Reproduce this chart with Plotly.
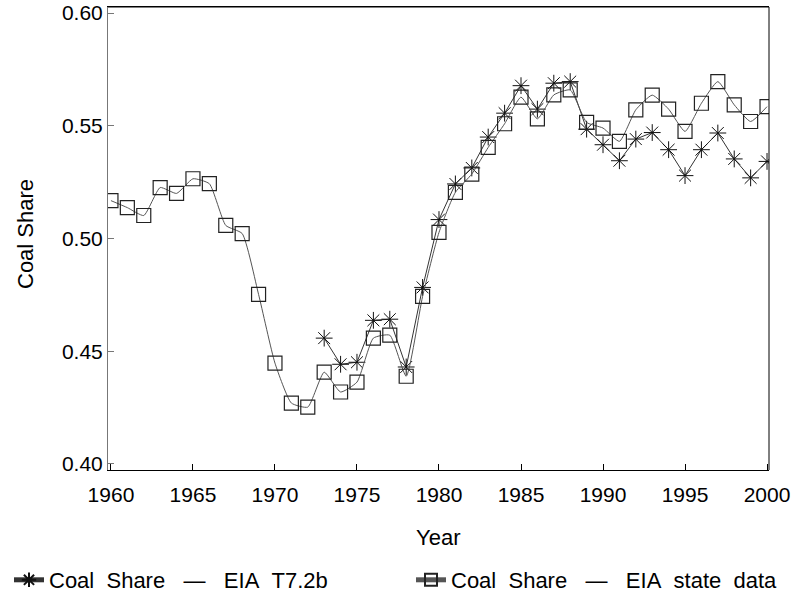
import plotly.graph_objects as go

years_state = list(range(1960, 2001))
coal_state = [0.5168, 0.5137, 0.5102, 0.5226, 0.5200, 0.5265, 0.5243, 0.5058, 0.5022, 0.4752,
              0.4447, 0.4270, 0.4252, 0.4407, 0.4319, 0.4363, 0.4558, 0.4571, 0.4389, 0.4743,
              0.5027, 0.5205, 0.5286, 0.5404, 0.5509, 0.5627, 0.5531, 0.5637, 0.5659, 0.5515,
              0.5490, 0.5431, 0.5571, 0.5636, 0.5574, 0.5475, 0.5600, 0.5696, 0.5593, 0.5519,
              0.5585]

years_t72b = list(range(1973, 2001))
coal_t72b = [0.4558, 0.4442, 0.4451, 0.4637, 0.4642, 0.4430, 0.4783,
             0.5084, 0.5242, 0.5313, 0.5450, 0.5556, 0.5678, 0.5574, 0.5689, 0.5696, 0.5485,
             0.5416, 0.5345, 0.5441, 0.5470, 0.5394, 0.5279, 0.5394, 0.5468, 0.5353, 0.5269,
             0.5342]

x_ticks = [1960, 1965, 1970, 1975, 1980, 1985, 1990, 1995, 2000]
y_ticks = [0.40, 0.45, 0.50, 0.55, 0.60]
y_ticklabels = ["0.40", "0.45", "0.50", "0.55", "0.60"]

SP = "\u00a0"
name_t72b = "Coal" + SP * 2 + "Share" + SP * 3 + "\u2014" + SP * 3 + "EIA" + SP * 2 + "T7.2b"
name_state = "Coal" + SP * 2 + "Share" + SP * 3 + "\u2014" + SP * 3 + "EIA" + SP * 2 + "state" + SP * 2 + "data"

FONT = "Liberation Sans, Arial, sans-serif"

fig = go.Figure()
fig.add_trace(go.Scatter(
    x=years_t72b, y=coal_t72b, mode="lines+markers",
    name=name_t72b, legend="legend",
    line=dict(color="#333333", width=1),
    marker=dict(symbol="asterisk-open", size=14, color="#111111", line=dict(width=1, color="#111111")),
))
fig.add_trace(go.Scatter(
    x=years_state, y=coal_state, mode="lines+markers",
    name=name_state, legend="legend2",
    line=dict(color="#555555", width=1, shape="spline", smoothing=0.5),
    marker=dict(symbol="square-open", size=14, color="#222222", line=dict(width=1.2, color="#222222")),
))

legend_common = dict(orientation="h", xref="container", yref="container",
                     xanchor="left", yanchor="middle", itemsizing="constant",
                     font=dict(size=22), bgcolor="rgba(0,0,0,0)")

fig.update_layout(
    width=796, height=597,
    margin=dict(l=108, r=27, t=7, b=127, autoexpand=False),
    paper_bgcolor="white", plot_bgcolor="white",
    font=dict(family=FONT, size=21, color="black"),
    showlegend=True,
    legend=dict(x=9 / 796, y=17 / 597, **legend_common),
    legend2=dict(x=411 / 796, y=17 / 597, **legend_common),
    xaxis=dict(range=[1959.82, 2000.12], tickvals=x_ticks, ticks="inside", ticklen=6,
               tickcolor="black", showline=True, linecolor="black", mirror=True,
               showgrid=False, zeroline=False, ticklabelstandoff=6),
    yaxis=dict(range=[0.3973, 0.6027], tickvals=y_ticks, ticktext=y_ticklabels, ticks="inside",
               ticklen=6, tickcolor="#777777", showline=True, linecolor="#777777", mirror=False,
               showgrid=False, zeroline=False),
    annotations=[
        dict(text="Year", xref="paper", yref="paper", x=(438 - 108) / 661, y=(470 - 537) / 463,
             xanchor="center", yanchor="middle", showarrow=False, font=dict(size=22)),
        dict(text="Coal" + SP + "Share", xref="paper", yref="paper", x=(25 - 108) / 661, y=(470 - 234) / 463,
             xanchor="center", yanchor="middle", textangle=-90, showarrow=False, font=dict(size=22)),
    ],
    shapes=[dict(type="line", xref="paper", yref="paper", x0=1, x1=1, y0=0, y1=1,
                 line=dict(color="black", width=1)),
            dict(type="line", xref="paper", yref="paper", x0=0, x1=1, y0=1, y1=1,
                 line=dict(color="black", width=1))],
)

fig.write_html("out.html")
